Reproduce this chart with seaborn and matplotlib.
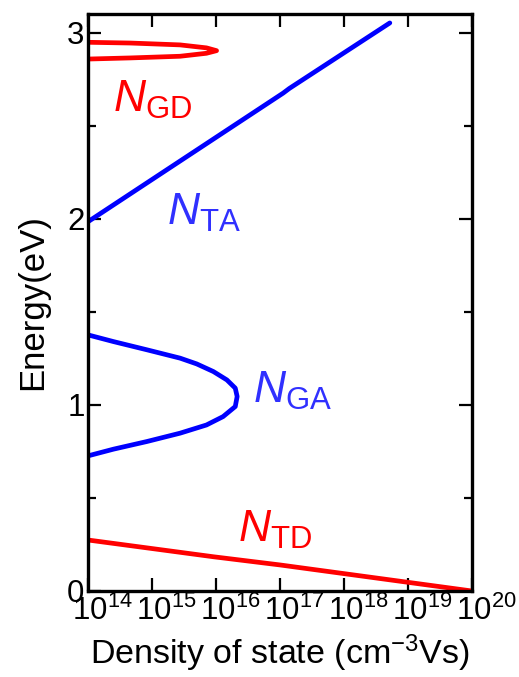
import numpy as np
import pandas as pd
import seaborn as sns
import matplotlib
matplotlib.use("Agg")
import matplotlib.pyplot as plt
from matplotlib.ticker import FixedLocator, NullLocator
from matplotlib.transforms import ScaledTranslation

# ---- density-of-states curves (density in cm^-3 eV^-1, energy in eV) ----
gd_density = [1.0e14, 4.6e14, 2.75e15, 7.1e15, 1.02e16, 7.1e15, 2.75e15, 4.6e14, 1.0e14]
gd_energy = [2.948, 2.944, 2.934, 2.918, 2.903, 2.889, 2.873, 2.864, 2.858]

ga_density = [1.0e14, 2.5e14, 8.3e14, 2.75e15, 5.0e15, 9.1e15, 1.48e16, 2.0e16, 2.14e16,
              2.0e16, 1.29e16, 7.1e15, 2.75e15, 8.3e14, 2.5e14, 1.0e14]
ga_energy = [1.376, 1.340, 1.296, 1.251, 1.220, 1.179, 1.134, 1.090, 1.045,
             0.991, 0.937, 0.892, 0.848, 0.803, 0.762, 0.726]

ta_density = [1.0e14, 1.12e17, 1.4e17, 5.2e18]
ta_energy = [1.984, 2.675, 2.700, 3.052]

td_density = [1.0e14, 9.1e15, 1.0e17, 1.0e20]
td_energy = [0.274, 0.184, 0.140, 0.000]

x_ticks = [1e14, 1e15, 1e16, 1e17, 1e18, 1e19, 1e20]
x_tick_labels = [r"$10^{14}$", r"$10^{15}$", r"$10^{16}$", r"$10^{17}$",
                 r"$10^{18}$", r"$10^{19}$", r"$10^{20}$"]
y_ticks = [0, 1, 2, 3]
y_minor_ticks = [0.5, 1.5, 2.5]

RED = "#ff0000"
BLUE = "#0000ff"
BLUE_TEXT = "#3030ff"

sns.set_theme(style="white")
plt.rcParams["font.family"] = ["Liberation Sans", "DejaVu Sans"]
plt.rcParams["mathtext.fontset"] = "custom"
plt.rcParams["mathtext.rm"] = "Liberation Sans"
plt.rcParams["mathtext.it"] = "Liberation Sans:italic"
plt.rcParams["mathtext.default"] = "regular"
plt.rcParams["text.color"] = "black"
plt.rcParams["axes.labelcolor"] = "black"
plt.rcParams["xtick.color"] = "black"
plt.rcParams["ytick.color"] = "black"

fig = plt.figure(figsize=(5.19, 6.77), dpi=100)
ax = fig.add_axes([88 / 519, 1 - 591 / 677, (472 - 88) / 519, (591 - 14) / 677])

curves = [
    (gd_density, gd_energy, RED),
    (ga_density, ga_energy, BLUE),
    (ta_density, ta_energy, BLUE),
    (td_density, td_energy, RED),
]
for dens, en, col in curves:
    df = pd.DataFrame({"density": dens, "energy": en})
    sns.lineplot(data=df, x="density", y="energy", sort=False, estimator=None,
                 color=col, linewidth=3.4, ax=ax, solid_capstyle="round",
                 solid_joinstyle="round")

ax.set_xscale("log")
ax.set_xlim(1e14, 1e20)
ax.set_ylim(0, 3.10)

ax.xaxis.set_major_locator(FixedLocator(x_ticks))
ax.xaxis.set_minor_locator(NullLocator())
ax.set_xticks(x_ticks)
ax.set_xticklabels(x_tick_labels)
ax.set_yticks(y_ticks)
ax.set_yticks(y_minor_ticks, minor=True)
ax.set_yticklabels([str(v) for v in y_ticks])

ax.tick_params(axis="both", which="major", direction="in", length=9.5, width=1.6,
               top=True, right=True, bottom=True, left=True, labelsize=22.5,
               colors="black")
ax.tick_params(axis="y", which="minor", direction="in", length=6, width=1.6,
               left=True, right=True)
ax.tick_params(axis="x", which="major", pad=3.5)
ax.tick_params(axis="y", which="major", pad=2.5)

# shift the power-of-ten labels so the "10" sits on its tick
shift = ScaledTranslation(14 / 100, 0, fig.dpi_scale_trans)
for lbl in ax.get_xticklabels():
    lbl.set_transform(lbl.get_transform() + shift)

for sp in ax.spines.values():
    sp.set_linewidth(2.4)
    sp.set_color("black")

ax.set_xlabel(r"Density of state (cm$^{-3}$Vs)", fontsize=24.5, labelpad=4)
ax.set_ylabel("Energy(eV)", fontsize=25, labelpad=13)

# curve labels
ax.text(2.45e14, 2.575, r"$\mathit{N}_{\mathrm{GD}}$", color=RED, fontsize=32,
        ha="left", va="baseline")
ax.text(1.7e15, 1.968, r"$\mathit{N}_{\mathrm{TA}}$", color=BLUE_TEXT, fontsize=32,
        ha="left", va="baseline")
ax.text(3.8e16, 1.011, r"$\mathit{N}_{\mathrm{GA}}$", color=BLUE_TEXT, fontsize=32,
        ha="left", va="baseline")
ax.text(2.2e16, 0.265, r"$\mathit{N}_{\mathrm{TD}}$", color=RED, fontsize=32,
        ha="left", va="baseline")

fig.savefig("out.png", dpi=100)
